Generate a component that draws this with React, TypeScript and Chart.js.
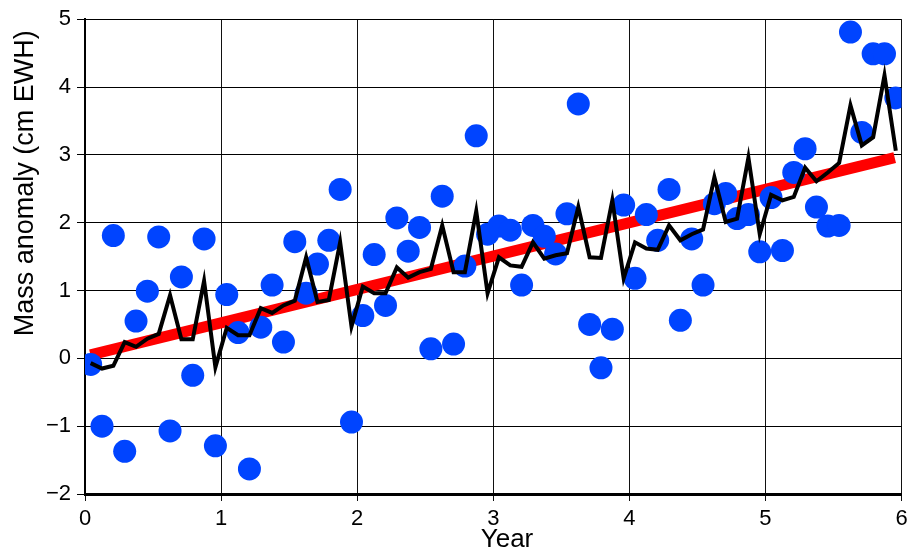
import React, { useEffect, useRef } from "react";
import { Chart, registerables } from "chart.js";

Chart.register(...registerables);

// Monthly observations (72 months, 6 years)
const dotValues: number[] = [
  -0.09, -1.0, 1.81, -1.37, 0.55, 0.99, 1.79, -1.07, 1.2, -0.25, 1.76, -1.29,
  0.94, 0.38, -1.63, 0.46, 1.08, 0.24, 1.72, 0.96, 1.39, 1.74, 2.49, -0.94,
  0.63, 1.53, 0.78, 2.07, 1.58, 1.93, 0.14, 2.39, 0.21, 1.36, 3.28, 1.83,
  1.95, 1.89, 1.08, 1.96, 1.8, 1.54, 2.13, 3.75, 0.5, -0.14, 0.43, 2.26,
  1.18, 2.12, 1.74, 2.49, 0.56, 1.76, 1.08, 2.28, 2.43, 2.06, 2.12, 1.57,
  2.37, 1.59, 2.74, 3.09, 2.23, 1.95, 1.96, 4.81, 3.33, 4.49, 4.49, 3.84,
];

// Model / fitted line
const lineValues: number[] = [
  -0.07, -0.15, -0.11, 0.24, 0.17, 0.29, 0.36, 0.93, 0.28, 0.28, 1.14, -0.13,
  0.45, 0.34, 0.34, 0.74, 0.67, 0.78, 0.85, 1.49, 0.83, 0.86, 1.71, 0.47,
  1.06, 0.96, 0.96, 1.34, 1.19, 1.27, 1.32, 1.96, 1.27, 1.27, 2.17, 0.96,
  1.49, 1.37, 1.35, 1.71, 1.47, 1.52, 1.55, 2.23, 1.49, 1.48, 2.33, 1.18,
  1.71, 1.62, 1.6, 1.96, 1.74, 1.83, 1.9, 2.67, 2.01, 2.06, 2.96, 1.83,
  2.41, 2.33, 2.38, 2.81, 2.61, 2.74, 2.88, 3.73, 3.14, 3.26, 4.17, 3.06,
];

// Linear trend end points
const trendX: number[] = [0.04, 5.95];
const trendY: number[] = [0.05, 2.96];

const xTickValues: number[] = [0, 1, 2, 3, 4, 5, 6];
const yTickValues: number[] = [-2, -1, 0, 1, 2, 3, 4, 5];

const xTitle = "Year";
const yTitle = "Mass anomaly (cm EWH)";

const FONT = '"Liberation Sans", Arial, Helvetica, sans-serif';

const monthX = (i: number) => (i + 0.5) / 12;

const titlePlugin = {
  id: "axisTitles",
  afterDraw(chart: any) {
    const ctx = chart.ctx;
    const area = chart.chartArea;
    ctx.save();
    ctx.fillStyle = "#000";
    ctx.font = `26px ${FONT}`;
    ctx.textAlign = "center";
    ctx.textBaseline = "alphabetic";
    ctx.fillText(xTitle, area.left + 422, area.bottom + 53);
    ctx.translate(33, area.top + 164);
    ctx.rotate(-Math.PI / 2);
    ctx.font = `27px ${FONT}`;
    ctx.fillText(yTitle, 0, 0);
    ctx.restore();
  },
};

export default function App() {
  const ref = useRef<HTMLCanvasElement | null>(null);

  useEffect(() => {
    if (!ref.current) return;
    const dots = dotValues.map((v, i) => ({ x: monthX(i), y: v }));
    const line = lineValues.map((v, i) => ({ x: monthX(i), y: v }));
    const trend = trendX.map((x, i) => ({ x, y: trendY[i] }));

    const chart = new Chart(ref.current, {
      type: "scatter",
      data: {
        datasets: [
          {
            label: "model",
            data: line,
            showLine: true,
            borderColor: "#000000",
            borderWidth: 4,
            pointRadius: 0,
            fill: false,
            order: 0,
            clip: 0,
          } as any,
          {
            label: "obs",
            data: dots,
            backgroundColor: "#0044ff",
            borderWidth: 0,
            pointRadius: 11.5,
            pointHoverRadius: 11.5,
            order: 1,
            clip: 0,
          } as any,
          {
            label: "trend",
            data: trend,
            showLine: true,
            borderColor: "#ff0000",
            borderWidth: 11,
            borderCapStyle: "butt",
            pointRadius: 0,
            fill: false,
            order: 2,
            clip: 0,
          } as any,
        ],
      },
      options: {
        responsive: false,
        animation: false,
        devicePixelRatio: 1,
        layout: { padding: { top: 18, right: 11, left: 0, bottom: 0 } },
        plugins: {
          legend: { display: false },
          tooltip: { enabled: false },
          title: { display: false },
        },
        events: [],
        scales: {
          x: {
            type: "linear",
            min: 0,
            max: 6,
            afterBuildTicks: (scale: any) => {
              scale.ticks = xTickValues.map((v) => ({ value: v }));
            },
            afterFit: (scale: any) => {
              scale.height = 59;
            },
            ticks: {
              font: { family: FONT, size: 22 },
              color: "#000",
              padding: 5,
              maxRotation: 0,
              callback: (v: any) => String(v).replace("-", "\u2212"),
            },
            grid: {
              color: "#111",
              lineWidth: 1,
              tickLength: 7,
              drawTicks: true,
            },
            border: { color: "#000", width: 3 },
          },
          y: {
            type: "linear",
            min: -2,
            max: 5,
            afterBuildTicks: (scale: any) => {
              scale.ticks = yTickValues.map((v) => ({ value: v }));
            },
            afterFit: (scale: any) => {
              scale.width = 85;
            },
            ticks: {
              font: { family: FONT, size: 22 },
              color: "#000",
              padding: 6,
              callback: (v: any) => String(v).replace("-", "\u2212"),
            },
            grid: {
              color: "#000",
              lineWidth: 1,
              tickLength: 8,
              drawTicks: true,
            },
            border: { color: "#000", width: 2 },
          },
        },
      },
      plugins: [titlePlugin],
    });
    return () => chart.destroy();
  }, []);

  return (
    <div
      style={{
        position: "fixed",
        left: 0,
        top: 0,
        width: 913,
        height: 553,
        background: "#fff",
      }}
    >
      <canvas ref={ref} width={913} height={553} />
    </div>
  );
}
